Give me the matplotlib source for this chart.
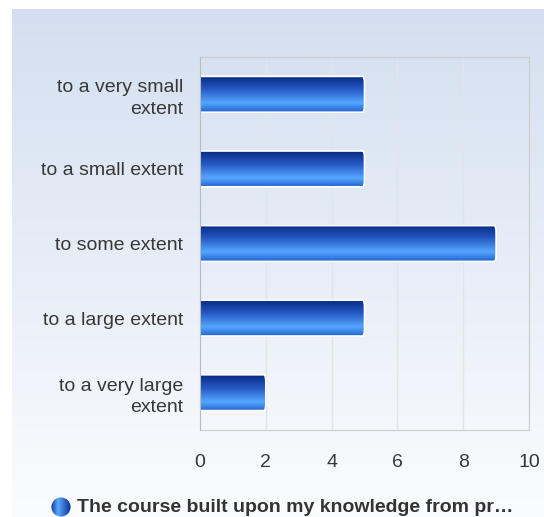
import numpy as np
import matplotlib.pyplot as plt
from matplotlib.colors import LinearSegmentedColormap
from matplotlib.patches import FancyBboxPatch, Circle

categories = [
    "to a very small\nextent",
    "to a small extent",
    "to some extent",
    "to a large extent",
    "to a very large\nextent",
]
counts = [5, 5, 9, 5, 2]
x_ticks = [0, 2, 4, 6, 8, 10]
series_name = "The course built upon my knowledge from pr\u2026"

plt.rcParams["font.family"] = ["Liberation Sans", "DejaVu Sans"]

fig = plt.figure(figsize=(5.44, 5.17), dpi=100)
W, H = 544, 517

# panel background with vertical gradient
bg = fig.add_axes([12 / W, 0, 1 - 12 / W, 1 - 9 / H])
bg_cmap = LinearSegmentedColormap.from_list("bg", ["#d3dff0", "#fbfcfe"])
bg.imshow(np.linspace(0, 1, 256).reshape(-1, 1), aspect="auto", cmap=bg_cmap,
          extent=[0, 1, 0, 1])
bg.set_axis_off()

# plot area
left, right, top, bottom = 200, 529, 57, 430
ax = fig.add_axes([left / W, 1 - bottom / H, (right - left) / W, (bottom - top) / H])
ax.patch.set_alpha(0)

y = np.arange(len(categories))
bars = ax.barh(y, counts, height=0.48, color="none", edgecolor="none")

bar_cmap = LinearSegmentedColormap.from_list(
    "bar", [(0, "#072a86"), (0.35, "#2457c0"), (0.75, "#55a6ff"), (1, "#2163cf")])
grad = np.linspace(0, 1, 128).reshape(-1, 1)
for b in bars:
    x0, y0, w, h = b.get_x(), b.get_y(), b.get_width(), b.get_height()
    patch = FancyBboxPatch((x0 - 0.1, y0), w + 0.1, h,
                           boxstyle="round,pad=0,rounding_size=0.06",
                           mutation_aspect=h / 0.3, facecolor="none",
                           edgecolor="white", linewidth=1.2, zorder=3)
    ax.add_patch(patch)
    im = ax.imshow(grad, aspect="auto", cmap=bar_cmap, extent=[x0, x0 + w, y0 + h, y0],
                   zorder=2, interpolation="bilinear")
    im.set_clip_path(patch)
ax.set_xlim(0, 10)
ax.set_ylim(len(categories) - 0.5, -0.5)

ax.set_xticks(x_ticks)
ax.set_yticks(y)
ax.set_yticklabels(categories, ha="right", linespacing=1.35)
ax.tick_params(length=0, labelsize=14, colors="#383838")
ax.tick_params(axis="x", pad=17)
ax.tick_params(axis="y", pad=12)
ax.grid(axis="x", color="#e2e4e8", linewidth=1)
ax.set_axisbelow(True)
for name, sp in ax.spines.items():
    sp.set_color("#cccccc")
ax.spines["left"].set_color("#bbbbbb")
ax.spines["left"].set_zorder(4)

# legend
ly = 1 - 507 / H
marker_ax = fig.add_axes([(61 - 10) / W, 1 - (507 + 10) / H, 20 / W, 20 / H])
marker_ax.set_axis_off()
circ = Circle((0.5, 0.5), 0.48, transform=marker_ax.transAxes, facecolor="none",
              edgecolor="none")
marker_ax.add_patch(circ)
mk_cmap = LinearSegmentedColormap.from_list(
    "mk", [(0, "#0c3aa0"), (0.35, "#5aa8ff"), (1, "#0a2f90")])
mim = marker_ax.imshow(np.linspace(0, 1, 64).reshape(1, -1), aspect="auto",
                       cmap=mk_cmap, extent=[0, 1, 0, 1])
mim.set_clip_path(circ)
marker_ax.set_xlim(0, 1)
marker_ax.set_ylim(0, 1)
fig.text(77 / W, ly, series_name, fontsize=14, fontweight="bold", color="#333333",
         va="center", ha="left")

fig.savefig("out.png", dpi=100)
